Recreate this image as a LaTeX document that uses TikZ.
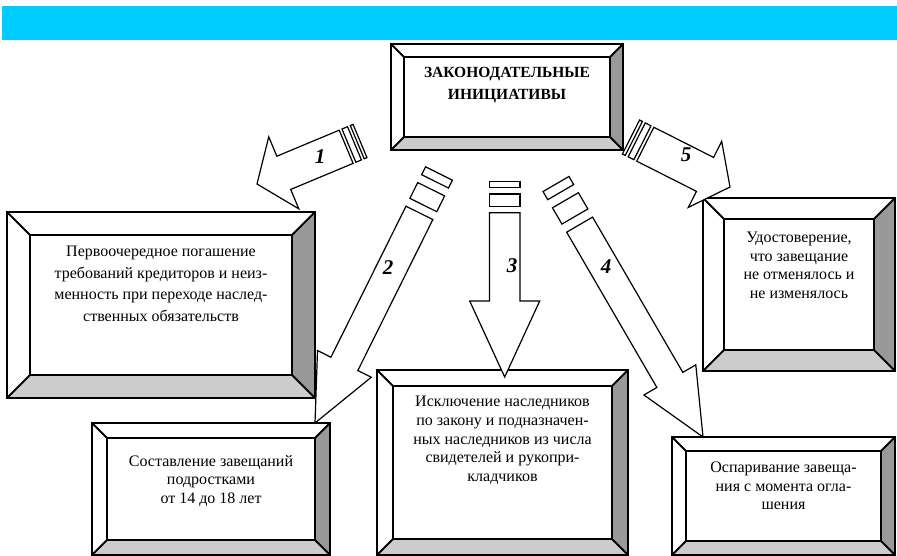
\documentclass[tikz,border=0pt]{standalone}
\usepackage{fontspec}
\setmainfont{Liberation Serif}
\usetikzlibrary{calc,positioning}

\definecolor{banner}{RGB}{0,204,255}
\definecolor{bevdark}{RGB}{153,153,153}
\definecolor{bevlight}{RGB}{204,204,204}

% bevelled frame round a box node: node, bevel width
\newcommand{\bevel}[2]{%
  \fill[bevdark] (#1.north east) -- (#1.south east) -- ($(#1.south east)+(-#2,-#2)$) -- ($(#1.north east)+(-#2,#2)$) -- cycle;
  \fill[bevlight] (#1.south west) -- (#1.south east) -- ($(#1.south east)+(-#2,-#2)$) -- ($(#1.south west)+(#2,-#2)$) -- cycle;
  \draw[boxline] ($(#1.north west)+(#2,#2)$) rectangle ($(#1.south east)+(-#2,-#2)$);
  \draw[boxline] (#1.north west) -- ($(#1.north west)+(#2,#2)$)
                 (#1.north east) -- ($(#1.north east)+(-#2,#2)$)
                 (#1.south east) -- ($(#1.south east)+(-#2,-#2)$)
                 (#1.south west) -- ($(#1.south west)+(#2,-#2)$);
  \draw[boxline] (#1.north west) rectangle (#1.south east);
}

% striped block arrow: tail, tip, shaft half width, head half width, head length, stripe length
\newcommand{\stripedarrow}[6]{%
  \coordinate (sa) at ($(#1)!0.2*#6!(#2)$);
  \coordinate (sb) at ($(#1)!0.4*#6!(#2)$);
  \coordinate (sc) at ($(#1)!0.8*#6!(#2)$);
  \coordinate (sd) at ($(#1)!#6!(#2)$);
  \coordinate (hb) at ($(#2)!#5!(#1)$);
  \draw[arrowbody] ($(#1)!#3!90:(#2)$) -- ($(sa)!#3!90:(#2)$) -- ($(sa)!#3!-90:(#2)$) -- ($(#1)!#3!-90:(#2)$) -- cycle;
  \draw[arrowbody] ($(sb)!#3!90:(#2)$) -- ($(sc)!#3!90:(#2)$) -- ($(sc)!#3!-90:(#2)$) -- ($(sb)!#3!-90:(#2)$) -- cycle;
  \draw[arrowbody] ($(sd)!#3!90:(#2)$) -- ($(hb)!#3!90:(#2)$) -- ($(hb)!#4!90:(#2)$) -- (#2)
     -- ($(hb)!#4!-90:(#2)$) -- ($(hb)!#3!-90:(#2)$) -- ($(sd)!#3!-90:(#2)$) -- cycle;
}

\begin{document}
\begin{tikzpicture}[x=1pt,y=-1pt,
  boxline/.style={line width=1.8pt},
  bbox/.style={draw,line width=1.8pt,fill=white,rectangle,inner sep=0pt,outer sep=0pt,anchor=north west},
  boxtext/.style={align=center,inner sep=0pt,font=\fontsize{16}{18.5}\selectfont},
  arrowbody/.style={draw,fill=white,line width=1.2pt,line join=miter},
  numlbl/.style={font=\bfseries\itshape\fontsize{21}{21}\selectfont,inner sep=0pt}]
\useasboundingbox (0,0) rectangle (897,556);
% banner
\fill[banner] (2,6) rectangle (897,40);
% boxes
\node[bbox,minimum width=232pt,minimum height=106pt] (tbox) at (391,44) {};
\bevel{tbox}{13}
\node[bbox,minimum width=308pt,minimum height=186pt] (lbox) at (7,212) {};
\bevel{lbox}{23}
\node[bbox,minimum width=192pt,minimum height=173pt] (rbox) at (703,198) {};
\bevel{rbox}{21}
\node[bbox,minimum width=238pt,minimum height=132pt] (sbox) at (92,423) {};
\bevel{sbox}{15}
\node[bbox,minimum width=251pt,minimum height=185pt] (mbox) at (377,370) {};
\bevel{mbox}{16}
\node[bbox,minimum width=223pt,minimum height=118pt] (obox) at (672,437) {};
\bevel{obox}{14}
% texts
\node[boxtext,font=\bfseries\fontsize{15.5}{22}\selectfont,below=23pt of tbox.north] (ttext)
  {ЗАКОНОДАТЕЛЬНЫЕ\\ИНИЦИАТИВЫ};
\node[boxtext,font=\fontsize{16}{21.5}\selectfont,below=34pt of lbox.north] (ltext)
  {Первоочередное погашение\\требований кредиторов и неиз-\\менность при переходе наслед-\\ственных обязательств};
\node[boxtext,below=34pt of rbox.north] (rtext)
  {Удостоверение,\\что завещание\\не отменялось и\\не изменялось};
\node[boxtext,below=32pt of sbox.north] (stext)
  {Составление завещаний\\подростками\\от 14 до 18 лет};
\node[boxtext,font=\fontsize{16}{18.7}\selectfont,below=26pt of mbox.north] (mtext)
  {Исключение наследников\\по закону и подназначен-\\ных наследников из числа\\свидетелей и рукопри-\\кладчиков};
\node[boxtext,below=25pt of obox.north] (otext)
  {Оспаривание завеща-\\ния с момента огла-\\шения};
% arrow ends
\coordinate (t1) at (360,141);   \coordinate (p1) at (257,184);
\coordinate (t2) at (439,173.5); \coordinate (p2) at (315,423);
\coordinate (t3) at (504.7,181.7); \coordinate (p3) at (504.7,377);
\coordinate (t4) at (556,184);   \coordinate (p4) at (703,437);
\coordinate (t5) at (631,137);   \coordinate (p5) at (730,187);
% arrows
\stripedarrow{t1}{p1}{18pt}{39pt}{29pt}{15pt}
\stripedarrow{t2}{p2}{15pt}{30pt}{66pt}{44pt}
\stripedarrow{t3}{p3}{15.3pt}{35pt}{76pt}{31pt}
\stripedarrow{t4}{p4}{15pt}{30pt}{66pt}{47pt}
\stripedarrow{t5}{p5}{19pt}{37pt}{28pt}{16pt}
% numbers
\node[numlbl] (n1) at (320,157) {1};
\node[numlbl] (n2) at (388,268) {2};
\node[numlbl] (n3) at (512,266) {3};
\node[numlbl] (n4) at (606,267) {4};
\node[numlbl] (n5) at (686,155) {5};
\end{tikzpicture}
\end{document}
